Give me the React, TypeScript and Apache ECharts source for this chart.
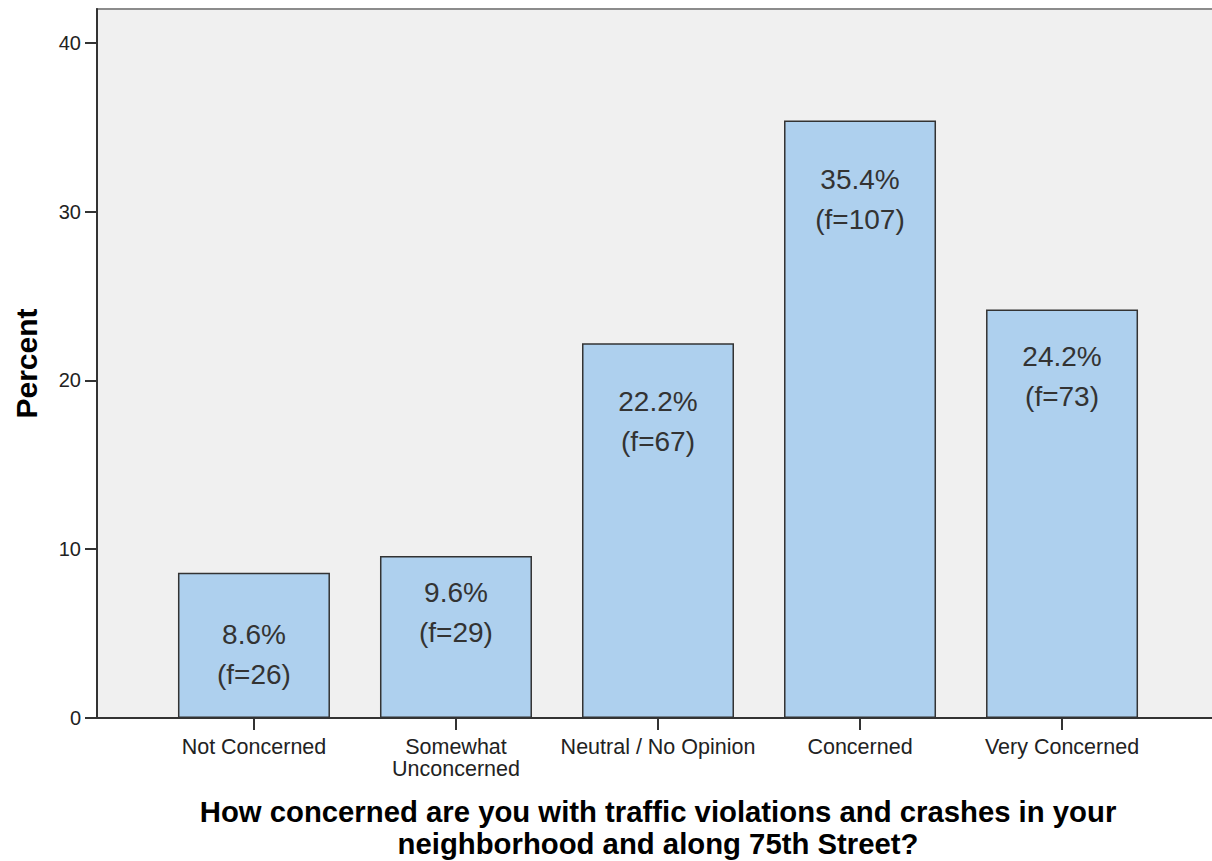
import React, { useEffect, useRef } from "react";
import * as echarts from "echarts";

const categories = [
  "Not Concerned",
  "Somewhat\nUnconcerned",
  "Neutral / No Opinion",
  "Concerned",
  "Very Concerned",
];
const percents = [8.6, 9.6, 22.2, 35.4, 24.2];
const frequencies = [26, 29, 67, 107, 73];
const yTicks = [0, 10, 20, 30, 40];
const yMax = 42;

// category positions on the x scale
const catPositions = categories.map((_, i) => i);
const xMin = -0.777;
const xMax = 4.777;

// label offsets (style), from bar top to label box top
const labelDistances = [42, 17, 38, 39, 27];

const FONT = "'Liberation Sans', Arial, Helvetica, sans-serif";

export default function App() {
  const ref = useRef<HTMLDivElement>(null);

  useEffect(() => {
    if (!ref.current) return;
    const chart = echarts.init(ref.current, undefined, { renderer: "svg" });
    const option: any = {
      animation: false,
      backgroundColor: "#ffffff",
      textStyle: { fontFamily: FONT },
      grid: {
        left: 97,
        right: -7,
        top: 9,
        bottom: 143,
        containLabel: false,
        outerBoundsMode: "none",
        show: true,
        backgroundColor: "#f0f0f0",
        borderColor: "#8c8c8c",
        borderWidth: 2,
      },
      xAxis: {
        type: "value",
        min: xMin,
        max: xMax,
        axisLine: { show: true, onZero: false, lineStyle: { color: "#333", width: 2 } },
        axisTick: {
          show: true,
          length: 12,
          customValues: catPositions,
          lineStyle: { color: "#333", width: 2 },
        },
        axisLabel: {
          show: true,
          customValues: catPositions,
          formatter: (v: number) => categories[Math.round(v)] ?? "",
          margin: 18,
          fontSize: 21.5,
          lineHeight: 22,
          color: "#222",
          fontFamily: FONT,
        },
        splitLine: { show: false },
        name: "How concerned are you with traffic violations and crashes in your\nneighborhood and along 75th Street?",
        nameLocation: "middle",
        nameGap: 77,
        nameTextStyle: {
          fontSize: 29.3,
          fontWeight: "bold",
          lineHeight: 32,
          color: "#000",
          fontFamily: FONT,
        },
      },
      yAxis: {
        type: "value",
        min: 0,
        max: yMax,
        axisLine: { show: true, onZero: false, lineStyle: { color: "#333", width: 2 } },
        axisTick: {
          show: true,
          length: 12,
          customValues: yTicks,
          lineStyle: { color: "#333", width: 2 },
        },
        axisLabel: {
          show: true,
          margin: 16,
          customValues: yTicks,
          fontSize: 20,
          color: "#222",
          fontFamily: FONT,
        },
        splitLine: { show: false },
        name: "Percent",
        nameLocation: "middle",
        nameGap: 56,
        nameTextStyle: {
          fontSize: 30,
          fontWeight: "bold",
          color: "#000",
          fontFamily: FONT,
        },
      },
      series: [
        {
          type: "bar",
          barWidth: 152,
          data: percents.map((v, i) => ({
            value: [catPositions[i], v],
            label: { distance: labelDistances[i] },
          })),
          itemStyle: {
            color: "#aed0ee",
            borderColor: "#333",
            borderWidth: 1.5,
          },
          label: {
            show: true,
            position: "insideTop",
            fontSize: 28,
            lineHeight: 40,
            color: "#333",
            fontFamily: FONT,
            formatter: (p: any) =>
              `${percents[p.dataIndex].toFixed(1)}%\n(f=${frequencies[p.dataIndex]})`,
          },
          z: 3,
        },
      ],
    };
    chart.setOption(option);
    return () => chart.dispose();
  }, []);

  return (
    <div
      ref={ref}
      style={{ position: "fixed", left: 0, top: 0, width: 1212, height: 861 }}
    />
  );
}
